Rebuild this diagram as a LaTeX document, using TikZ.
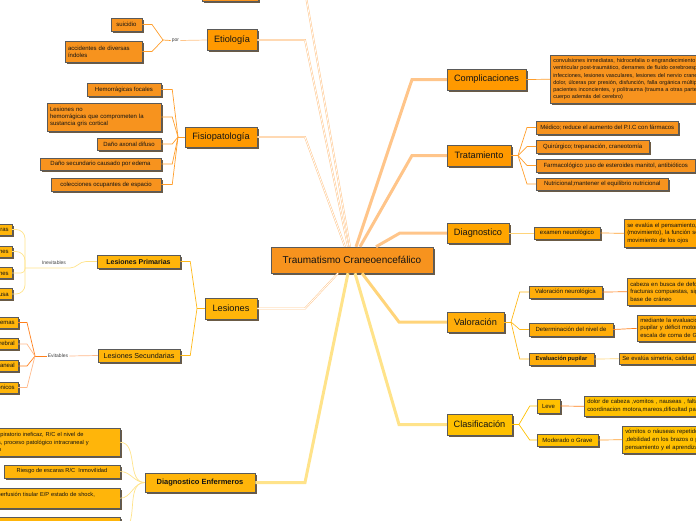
\documentclass[tikz,border=0pt]{standalone}
\usepackage{fontspec}
\setmainfont{Liberation Sans}
\usepackage{xcolor}
\usetikzlibrary{positioning,shadows,calc}

\definecolor{naranja}{HTML}{F7931E}
\definecolor{naranjaVivo}{HTML}{FF9900}
\definecolor{ambar}{HTML}{FFA500}
\definecolor{ambarClaro}{HTML}{FFAD0A}
\definecolor{amarillo}{HTML}{FFC000}
\definecolor{lesion}{HTML}{FFB50A}
\definecolor{borde}{HTML}{5A5A5A}
\definecolor{sombra}{HTML}{6B5B45}
\definecolor{lineaNar}{HTML}{FFC58A}
\definecolor{lineaAma}{HTML}{FFE38A}
\definecolor{lineaVal}{HTML}{FFD47A}
\definecolor{naranjaLinea}{HTML}{FF9E2C}
\definecolor{ambarLinea}{HTML}{FFB818}
\definecolor{naranjaFuerte}{HTML}{FF7F1A}
\definecolor{naranjaSuave}{HTML}{FFB98A}

\begin{document}
\begin{tikzpicture}[x=1pt, y=-1pt,
  caja/.style={draw=borde, line width=0.5pt, rectangle, inner xsep=3pt, inner ysep=0pt,
    text=black!92, drop shadow={shadow xshift=1.8pt, shadow yshift=-1.8pt, fill=sombra, opacity=1}},
  tema/.style={caja, fill=naranja, minimum width=162pt, minimum height=26pt, font=\fontsize{10}{12}\selectfont},
  rama/.style={caja, minimum height=21pt, font=\fontsize{9.2}{11}\selectfont},
  hoja/.style={caja, minimum height=12.5pt, font=\fontsize{6}{7.2}\selectfont},
  texto/.style={caja, align=left, anchor=north west, inner ysep=2.5pt, text width=190pt, font=\fontsize{5.9}{7.8}\selectfont},
  etiqueta/.style={font=\fontsize{5}{6}\selectfont, text=black!75, inner sep=1pt},
  doble/.style={draw=lineaNar, double=white, double distance=0.8pt, line width=0.5pt},
  gruesa/.style={line width=3pt},
  fina/.style={line width=0.7pt}
]
\useasboundingbox (0,0) rectangle (696,520);
\clip (0,0) rectangle (696,520);

% tema central
\node[tema] (tce) at (352,260) {Traumatismo Craneoencefálico};

% ramas de la izquierda
\node[caja, fill=naranja, minimum width=56pt, minimum height=20pt] (arriba) at (230,-9) {};
\node[rama, fill=naranjaVivo, minimum width=50pt] (etio) at (232,40) {Etiología};
\node[rama, fill=naranjaVivo, minimum width=72pt, minimum height=20pt] (fisio) at (221,137) {Fisiopatología};
\node[rama, fill=lesion, minimum width=52pt] (lesiones) at (231,308.5) {Lesiones};
\node[rama, fill=lesion, minimum width=110pt, minimum height=19pt, font=\fontsize{7.5}{9}\selectfont\bfseries] (enfermeros) at (200,482.5) {Diagnostico Enfermeros};

% ramas de la derecha
\node[rama, fill=naranjaVivo, minimum width=79pt] (compl) at (486.5,79.5) {Complicaciones};
\node[rama, fill=naranjaVivo, minimum width=64pt] (trat) at (479,155.5) {Tratamiento};
\node[rama, fill=ambar, minimum width=62pt, minimum height=20pt] (diag) at (478,233) {Diagnostico};
\node[rama, fill=ambarClaro, minimum width=57pt, minimum height=20pt] (valor) at (475.5,322) {Valoración};
\node[rama, fill=amarillo, minimum width=65pt] (clasif) at (479.5,424.5) {Clasificación};

% Etiologia
\node[etiqueta] (por) at (175.5,40.5) {por};
\node[hoja, fill=naranja, minimum width=31pt, minimum height=13pt] (suicidio) at (126.5,24.5) {suicidio};
\node[hoja, fill=naranja, align=left, text width=71pt, minimum height=21pt] (accidentes) at (103.5,51.5) {accidentes de diversas\\índoles};

% Fisiopatologia
\node[hoja, fill=naranja, minimum width=74pt, minimum height=13pt] (hemo) at (124,89.5) {Hemorrágicas focales};
\node[hoja, fill=naranja, align=left, text width=108pt, minimum height=28pt] (nohemo) at (104,117) {Lesiones no\\hemorrágicas que comprometen la\\sustancia gris cortical};
\node[hoja, fill=naranja, minimum width=64pt, minimum height=12pt] (axonal) at (129,144) {Daño axonal difuso};
\node[hoja, fill=naranja, minimum width=121pt, minimum height=12pt] (edema) at (100.5,164) {Daño secundario causado por edema};
\node[hoja, fill=naranja, minimum width=110pt, minimum height=13pt] (colec) at (106,184.5) {colecciones ocupantes de espacio};

% Lesiones
\node[hoja, fill=lesion, minimum width=83pt, minimum height=13pt, font=\fontsize{7}{8}\selectfont\bfseries] (primarias) at (138.5,261.5) {Lesiones Primarias};
\node[hoja, fill=lesion, minimum width=82pt, minimum height=13pt, font=\fontsize{7.2}{8}\selectfont] (secundarias) at (139,355.5) {Lesiones Secundarias};
\node[etiqueta] (inev) at (54,262.5) {Inevitables};
\node[etiqueta] (evit) at (58,356) {Evitables};
\node[hoja, fill=lesion, anchor=east, minimum height=11pt] (prim1) at (12,229.5) {Fracturas};
\node[hoja, fill=lesion, anchor=east, minimum height=11pt] (prim2) at (12,251.5) {Contusiones};
\node[hoja, fill=lesion, anchor=east, minimum height=11pt] (prim3) at (12,273) {Laceraciones};
\node[hoja, fill=lesion, anchor=east, minimum height=11pt] (prim4) at (12,294) {Lesión axonal difusa};
\node[hoja, fill=lesion, anchor=east, minimum height=11pt] (secu1) at (18,322.5) {Hematomas y edemas};
\node[hoja, fill=lesion, anchor=east, minimum height=11pt] (secu2) at (18,344) {Isquemia cerebral};
\node[hoja, fill=lesion, anchor=east, minimum height=11pt] (secu3) at (18,366) {Hipertensión intracraneal};
\node[hoja, fill=lesion, anchor=east, minimum height=11pt] (secu4) at (18,387.5) {Desequilibrios iónicos};

% Diagnostico Enfermeros
\node[hoja, fill=lesion, anchor=north east, align=left, text width=143pt, minimum height=28pt, font=\fontsize{5.7}{7.4}\selectfont] (enf1) at (120,428) {Patrón respiratorio ineficaz, R/C el nivel de\\conciencia, proceso patológico intracraneal y\\metabólico};
\node[hoja, fill=lesion, minimum width=116pt, minimum height=13pt, font=\fontsize{5.7}{7}\selectfont] (enf2) at (62,471.5) {Riesgo de escaras R/C\ \ Inmovilidad};
\node[hoja, fill=lesion, anchor=north east, align=left, text width=147pt, minimum height=20pt, font=\fontsize{5.7}{7.4}\selectfont] (enf3) at (120,488) {Riesgo de perfusión tisular E/P estado de shock,\\hipovolemia};
\node[hoja, fill=lesion, anchor=north east, align=left, text width=147pt, minimum height=26pt] (enf4) at (120,517) {Riesgo de lesión R/C alteración del estado de conciencia};

% Complicaciones
\node[texto, fill=naranja, text width=200pt, minimum height=48pt, font=\fontsize{5.5}{7.3}\selectfont] (compldet) at (550,55) {convulsiones inmediatas, hidrocefalia o engrandecimiento\\ventricular post-traumático, derrames de fluido cerebroespinal,\\infecciones, lesiones vasculares, lesiones del nervio craneal,\\dolor, úlceras por presión, disfunción, falla orgánica múltiple en\\pacientes inconcientes, y politrauma (trauma a otras partes del\\cuerpo además del cerebro)};

% Tratamiento
\node[hoja, fill=naranja, anchor=west, minimum width=142pt, minimum height=13pt] (trat1) at (536,127.5) {Médico; reduce el aumento del P.I.C con fármacos};
\node[hoja, fill=naranja, anchor=west, minimum width=113pt, minimum height=13pt] (trat2) at (536,146.5) {Quirúrgico; trepanación, craneotomía};
\node[hoja, fill=naranja, anchor=west, minimum width=159pt, minimum height=13pt] (trat3) at (536,165.5) {Farmacológico ;uso de esteroides manitol, antibióticos};
\node[hoja, fill=naranja, anchor=west, minimum width=132pt, minimum height=12pt] (trat4) at (536,184) {Nutricional;mantener el equilibrio nutricional};

% Diagnostico
\node[hoja, fill=ambar, minimum width=66pt, minimum height=12pt] (examen) at (567,233) {examen neurológico};
\node[texto, fill=ambar, minimum height=28pt] (examendet) at (624,219) {se evalúa el pensamiento, la fuerza motora\\(movimiento), la función sensorial y el\\movimiento de los ojos};

% Valoracion
\node[hoja, fill=ambarClaro, minimum width=73pt, minimum height=12pt] (valneuro) at (565.5,292) {Valoración neurológica};
\node[hoja, fill=ambarClaro, minimum width=84pt, minimum height=13pt] (valnivel) at (571,329.5) {Determinación del nivel de};
\node[hoja, fill=ambarClaro, minimum width=65pt, minimum height=12pt, font=\fontsize{5.8}{7}\selectfont\bfseries] (valpupila) at (561.5,359) {Evaluación pupilar};
\node[texto, fill=ambarClaro, minimum height=27pt] (valneurodet) at (627,278) {cabeza en busca de deformidades, heridas\\fracturas compuestas, signos de fractura de\\base de cráneo};
\node[texto, fill=ambarClaro, minimum height=26pt] (valniveldet) at (637,315) {mediante la evaluación del nivel de conciencia\\pupilar y déficit motor mediante la\\escala de coma de Glasgow};
\node[texto, fill=ambarClaro, minimum height=11pt, inner ysep=1pt] (valpupiladet) at (619,353) {Se evalúa simetría, calidad y respuesta a la luz};

% Clasificacion
\node[hoja, fill=amarillo, minimum width=23pt, minimum height=14pt] (leve) at (548.5,406) {Leve};
\node[hoja, fill=amarillo, minimum width=61pt, minimum height=12pt] (grave) at (567.5,440) {Moderado o Grave};
\node[texto, fill=amarillo, minimum height=20pt] (levedet) at (584,396) {dolor de cabeza ,vomitos , nauseas , falta de\\coordinacion motora,mareos,dificultad para hablar};
\node[texto, fill=amarillo, minimum height=27pt] (gravedet) at (622,426) {vómitos o náuseas repetidos, convulsiones\\,debilidad en los brazos o piernas, confusión\\pensamiento y el aprendizaje};

% conectores del tema central
\draw[doble] (arriba.east) -- (305,-9) -- ([xshift=-2pt]tce.north);
\draw[doble] (etio.east) -- (305,40) -- ([xshift=-4pt]tce.north);
\draw[doble] (fisio.east) -- (305,137) -- ([xshift=-7pt]tce.north);
\draw[doble] (lesiones.east) -- (305,308.5) -- ([xshift=-14pt]tce.south);
\draw[gruesa, draw=lineaAma] (enfermeros.east) -- (305,482.5) -- ([xshift=-4pt]tce.south);
\draw[gruesa, draw=lineaNar] (compl.west) -- (412,79.5) -- ([xshift=4pt]tce.north);
\draw[gruesa, draw=lineaNar] (trat.west) -- (412,155.5) -- ([xshift=8pt]tce.north);
\draw[gruesa, draw=lineaNar] (diag.west) -- (400,233) -- ([xshift=24pt]tce.north);
\draw[gruesa, draw=lineaVal] (valor.west) -- (399,322) -- ([xshift=10pt]tce.south);
\draw[gruesa, draw=lineaAma] (clasif.west) -- (399,424.5) -- ([xshift=3pt]tce.south);

% Etiologia
\coordinate (rEtio) at (163,40);
\draw[fina, draw=lineaNar] (etio.west) -- (por.east);
\draw[fina, draw=naranjaLinea] (por.west) -- (rEtio);
\draw[fina, draw=naranjaLinea] (rEtio) -- (152,24.5) -- (suicidio.east);
\draw[fina, draw=naranjaLinea] (rEtio) -- (152,51.5) -- (accidentes.east);

% Fisiopatologia
\coordinate (rFisio) at (178,137);
\draw[fina, draw=naranjaLinea] (fisio.west) -- (rFisio);
\draw[fina, draw=naranjaLinea] (rFisio) -- ([xshift=11pt]hemo.east) -- (hemo.east);
\draw[fina, draw=naranjaLinea] (rFisio) -- ([xshift=11pt]nohemo.east) -- (nohemo.east);
\draw[fina, draw=naranjaLinea] (rFisio) -- ([xshift=11pt]axonal.east) -- (axonal.east);
\draw[fina, draw=naranjaLinea] (rFisio) -- ([xshift=11pt]edema.east) -- (edema.east);
\draw[fina, draw=naranjaLinea] (rFisio) -- ([xshift=11pt]colec.east) -- (colec.east);

% Lesiones
\coordinate (rLes) at (197,308.5);
\draw[fina, draw=ambarLinea] (lesiones.west) -- (rLes);
\draw[fina, draw=ambarLinea] (rLes) -- ([xshift=10pt]primarias.east) -- (primarias.east);
\draw[fina, draw=ambarLinea] (rLes) -- ([xshift=10pt]secundarias.east) -- (secundarias.east);
\coordinate (rInev) at (25,268);
\draw[fina, draw=lineaAma] (primarias.west) -- (86,261.5) to[out=180, in=0] (70,268) -- (rInev);
\draw[fina, draw=lineaAma, rounded corners=9pt] (prim1.east) -| (rInev);
\draw[fina, draw=lineaAma, rounded corners=9pt] (prim2.east) -| (rInev);
\draw[fina, draw=lineaAma, rounded corners=4pt] (prim3.east) -| (rInev);
\draw[fina, draw=lineaAma, rounded corners=9pt] (prim4.east) -| (rInev);
\coordinate (rEvit) at (35,356);
\draw[fina, draw=naranjaSuave] (secundarias.west) -- (evit.east);
\draw[fina, draw=naranjaFuerte] (evit.west) -- (rEvit);
\draw[fina, draw=naranjaFuerte] (rEvit) -- ([xshift=9pt]secu1.east) -- (secu1.east);
\draw[fina, draw=naranjaSuave] (rEvit) -- ([xshift=9pt]secu2.east) -- (secu2.east);
\draw[fina, draw=naranjaFuerte] (rEvit) -- ([xshift=9pt]secu3.east) -- (secu3.east);
\draw[fina, draw=naranjaSuave] (rEvit) -- ([xshift=9pt]secu4.east) -- (secu4.east);

% Diagnostico Enfermeros
\draw[fina, draw=lineaAma] (enfermeros.west) to[out=180, in=0] (enf1.east);
\draw[fina, draw=lineaAma] (enfermeros.west) to[out=180, in=0] (enf2.east);
\draw[fina, draw=lineaAma] (enfermeros.west) to[out=180, in=0] (enf3.east);
\draw[fina, draw=lineaAma] (enfermeros.west) to[out=180, in=0] (enf4.east);

% Complicaciones y Tratamiento
\draw[fina, draw=naranjaLinea] (compl.east) -- (compldet.west);
\coordinate (rTrat) at (518,155.5);
\draw[fina, draw=naranjaLinea] (trat.east) -- (rTrat);
\draw[fina, draw=naranjaLinea] (rTrat) -- ([xshift=-9pt]trat1.west) -- (trat1.west);
\draw[fina, draw=naranjaLinea] (rTrat) -- ([xshift=-9pt]trat2.west) -- (trat2.west);
\draw[fina, draw=naranjaLinea] (rTrat) -- ([xshift=-9pt]trat3.west) -- (trat3.west);
\draw[fina, draw=naranjaLinea] (rTrat) -- ([xshift=-9pt]trat4.west) -- (trat4.west);

% Diagnostico
\draw[fina, draw=lineaVal] (diag.east) -- (examen.west);
\draw[fina, draw=naranjaLinea] (examen.east) -- (examendet.west);

% Valoracion
\coordinate (rVal) at (511,322);
\draw[fina, draw=ambarLinea] (valor.east) -- (rVal);
\draw[fina, draw=ambarLinea] (rVal) -- ([xshift=-9pt]valneuro.west) -- (valneuro.west);
\draw[fina, draw=ambarLinea] (rVal) -- ([xshift=-9pt]valnivel.west) -- (valnivel.west);
\draw[fina, draw=ambarLinea] (rVal) -- ([xshift=-9pt]valpupila.west) -- (valpupila.west);
\draw[fina, draw=naranjaFuerte] (valneuro.east) -- (valneurodet.west);
\draw[fina, draw=naranjaFuerte] (valnivel.east) -- (valniveldet.west);
\draw[fina, draw=lineaVal] (valpupila.east) -- (valpupiladet.west);

% Clasificacion
\coordinate (rClas) at (519,424.5);
\draw[fina, draw=amarillo] (clasif.east) -- (rClas);
\draw[fina, draw=amarillo] (rClas) -- ([xshift=-7pt]leve.west) -- (leve.west);
\draw[fina, draw=amarillo] (rClas) -- ([xshift=-7pt]grave.west) -- (grave.west);
\draw[fina, draw=naranjaFuerte] (leve.east) -- (levedet.west);
\draw[fina, draw=naranjaLinea] (grave.east) -- (gravedet.west);
\end{tikzpicture}
\end{document}
